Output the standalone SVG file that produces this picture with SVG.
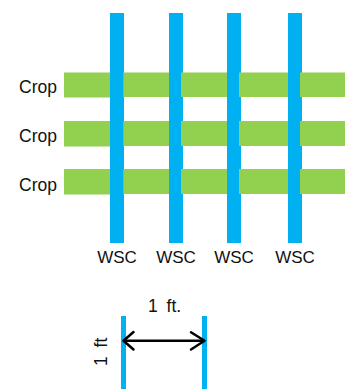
<svg xmlns="http://www.w3.org/2000/svg" width="345" height="389" viewBox="0 0 345 389">
<style>
.g{fill:#92D050}
.b{fill:#00B0F0}
.t{font-family:"Liberation Sans",Arial,sans-serif;font-size:17.5px;fill:#111}
.w{font-family:"Liberation Sans",Arial,sans-serif;font-size:17px;fill:#111;text-anchor:middle}
.arr{fill:none;stroke:#000;stroke-width:2.5;stroke-linecap:round;stroke-linejoin:round}
</style>
<rect width="345" height="389" fill="#fff"/>
<g id="wsc-bars">
<rect class="b" x="110" y="13" width="14" height="230"/>
<rect class="b" x="169" y="13" width="14" height="230"/>
<rect class="b" x="227" y="13" width="14" height="230"/>
<rect class="b" x="288" y="13" width="14" height="230"/>
</g>
<g id="crop-row-1">
<rect class="g" x="64" y="72.5" width="46" height="25"/>
<rect class="g" x="123.3" y="72.5" width="45.7" height="24.5"/>
<rect class="g" x="181" y="72.5" width="46" height="24.5"/>
<rect class="g" x="239" y="72.5" width="49" height="24.5"/>
<rect class="g" x="300" y="72.5" width="45" height="24.5"/>
<text class="t" x="19" y="93">Crop</text>
</g>
<g id="crop-row-2">
<rect class="g" x="64" y="121" width="46" height="25.5"/>
<rect class="g" x="123.3" y="121" width="45.7" height="25"/>
<rect class="g" x="181" y="121" width="46" height="25"/>
<rect class="g" x="239" y="121" width="49" height="25"/>
<rect class="g" x="300" y="121" width="45" height="25"/>
<text class="t" x="19" y="142">Crop</text>
</g>
<g id="crop-row-3">
<rect class="g" x="64" y="169" width="46" height="25.5"/>
<rect class="g" x="123.3" y="169" width="45.7" height="25"/>
<rect class="g" x="181" y="169" width="46" height="25"/>
<rect class="g" x="239" y="169" width="49" height="25"/>
<rect class="g" x="300" y="169" width="45" height="25"/>
<text class="t" x="19" y="190.5">Crop</text>
</g>
<g id="wsc-labels">
<text class="w" x="117" y="262.5">WSC</text>
<text class="w" x="176" y="262.5">WSC</text>
<text class="w" x="234" y="262.5">WSC</text>
<text class="w" x="295" y="262.5">WSC</text>
</g>
<g id="scale-left">
<rect class="b" x="121" y="316" width="5" height="73"/>
<text class="t" transform="translate(106.5,366) rotate(-90)" x="0" y="0" word-spacing="4">1 ft</text>
</g>
<g id="scale-right">
<rect class="b" x="202" y="316" width="5" height="73"/>
</g>
<g id="scale-label">
<text class="t" x="148" y="311.5" word-spacing="4">1 ft.</text>
</g>
<g id="connectors">
<path class="arr" d="M124,340.7 H204"/>
<path class="arr" d="M133.5,332 L123.5,340.7 L133.5,349.5"/>
<path class="arr" d="M191,332.3 L204.5,340.7 L191,349.5"/>
</g>
</svg>
